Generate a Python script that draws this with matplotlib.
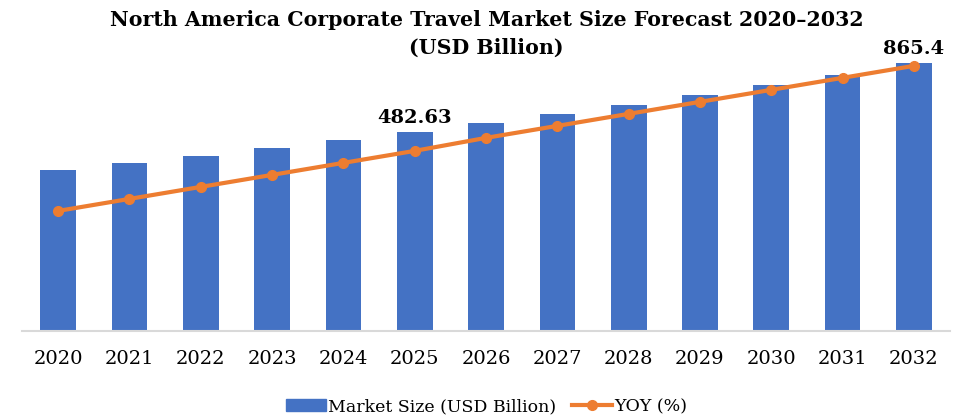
import numpy as np
import matplotlib
matplotlib.use("Agg")
from matplotlib import pyplot as plt
from matplotlib.lines import Line2D
from matplotlib.patches import Patch

# Data
years = ["2020", "2021", "2022", "2023", "2024", "2025", "2026",
         "2027", "2028", "2029", "2030", "2031", "2032"]
market_size = [271.8, 310.7, 349.5, 393.9, 438.3, 482.63, 532.6,
               582.5, 632.4, 687.9, 743.3, 798.8, 865.4]
yoy = [12.0, 13.2, 14.4, 15.6, 16.8, 18.0, 19.3, 20.5, 21.7, 22.9, 24.1, 25.3, 26.5]
labelled = {"2025": "482.63", "2032": "865.4"}

blue = "#4472C4"
orange = "#ED7D31"
serif = ["DejaVu Serif"]

fig = plt.figure(figsize=(9.73, 4.19), dpi=100)
ax = fig.add_axes([0.023, 0.21, 0.953, 0.695])
x = np.arange(len(years))

# value axis does not start at zero in the original
base = -621.2
ax.bar(x, np.array(market_size) - base, bottom=base, width=0.5, color=blue, zorder=2)
ax.set_ylim(base, 993.0)
ax.set_xlim(-0.5, len(years) - 0.5)

for i, yr in enumerate(years):
    if yr in labelled:
        ax.annotate(labelled[yr], (x[i], market_size[i]), xytext=(0, 3.5),
                    textcoords="offset points", ha="center", va="bottom",
                    fontsize=14, fontweight="bold", family=serif)

ax2 = ax.twinx()
ax2.plot(x, yoy, "-o", color=orange, lw=3, ms=7, zorder=3)
ax2.set_ylim(0, 29.1)

for a in (ax, ax2):
    for s in ("top", "right", "left"):
        a.spines[s].set_visible(False)
    a.set_yticks([])
ax2.spines["bottom"].set_visible(False)
ax.spines["bottom"].set_color("#D9D9D9")
ax.spines["bottom"].set_linewidth(1.5)

ax.set_xticks(x)
ax.set_xticklabels(years, fontsize=14, family=serif)
ax.tick_params(axis="x", length=0, pad=14)

fig.text(0.5, 0.938, "North America Corporate Travel Market Size Forecast 2020\u20132032",
         ha="center", va="baseline", fontsize=14.8, fontweight="bold", family=serif)
fig.text(0.5, 0.871, "(USD Billion)",
         ha="center", va="baseline", fontsize=14.8, fontweight="bold", family=serif)

handles = [Patch(color=blue),
           Line2D([], [], color=orange, lw=3, marker="o", ms=7)]
fig.legend(handles, ["Market Size (USD Billion)", "YOY (%)"], loc="lower center",
           bbox_to_anchor=(0.5, -0.028), ncol=2, frameon=False,
           prop={"family": serif, "size": 12.5}, handlelength=2.3,
           columnspacing=0.9, handletextpad=0.15)

fig.savefig("out.png", dpi=100)
